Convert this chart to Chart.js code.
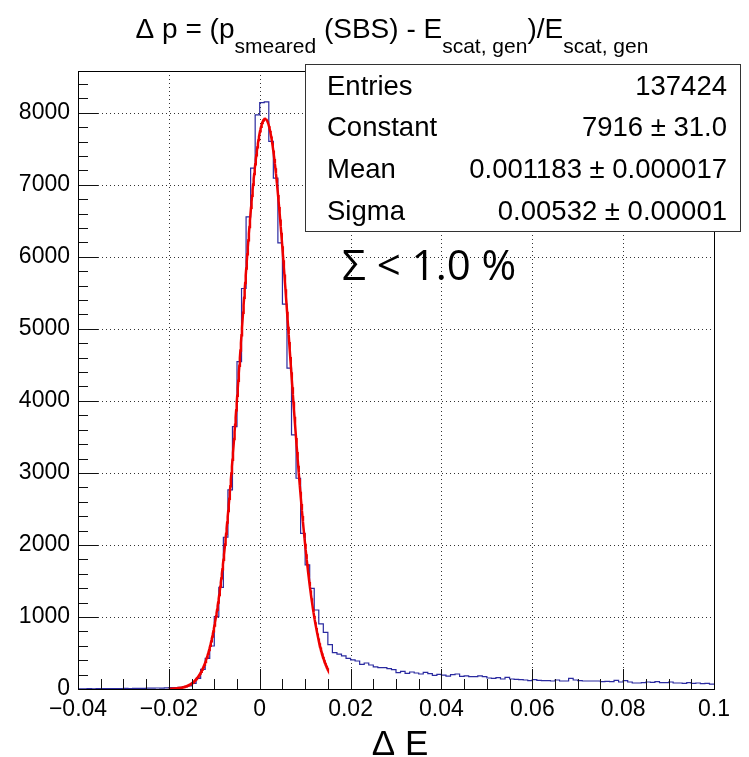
<!DOCTYPE html>
<html>
<head>
<meta charset="utf-8">
<script src="https://cdn.jsdelivr.net/npm/chart.js@4.4.1/dist/chart.umd.min.js"></script>
<style>
  html, body { margin: 0; padding: 0; background: #ffffff; }
  canvas { display: block; }
</style>
</head>
<body>
<canvas id="c" width="749" height="757"></canvas>
<script>
// Histogram binning: 140 bins of width 0.001 over [-0.04, 0.1]
const xRange = [-0.04, 0.1];
const binWidth = 0.001;

// Bin contents, lowest bin first
const counts = [
  3, 2, 4, 3, 5, 4, 6, 5, 7, 6,
  8, 7, 9, 10, 9, 11, 12, 14, 13, 16,
  18, 20, 24, 30, 42, 79, 148, 273, 426, 597,
  1004, 1412, 2107, 2764, 3643, 4546, 5560, 6555, 7232, 7972,
  8140, 8150, 7602, 7093, 6194, 5343, 4454, 3528, 2926, 2162,
  1722, 1398, 1097, 903, 785, 615, 505, 483, 460, 426,
  403, 389, 343, 361, 333, 306, 296, 296, 282, 268,
  227, 245, 218, 236, 222, 208, 231, 213, 190, 204,
  194, 180, 199, 208, 176, 181, 171, 171, 181, 171,
  153, 148, 157, 139, 162, 139, 134, 130, 125, 116,
  130, 120, 116, 116, 111, 125, 111, 111, 148, 125,
  116, 111, 111, 111, 111, 102, 106, 102, 120, 97,
  116, 97, 83, 83, 88, 97, 93, 102, 88, 88,
  97, 83, 83, 79, 88, 79, 83, 74, 79, 69
];

// Gaussian fit results (shown in the statistics box)
const entries = 137424;
const fitConstant = 7916, fitConstantErr = 31.0;
const fitMean = 0.001183, fitMeanErr = 0.000017;
const fitSigma = 0.00532, fitSigmaErr = 0.00001;
const fitRange = [-0.02, 0.015];

// Axis ticks
const xMajorTicks = [-0.04, -0.02, 0, 0.02, 0.04, 0.06, 0.08, 0.1];
const yMajorTicks = [0, 1000, 2000, 3000, 4000, 5000, 6000, 7000, 8000];
const yMax = 8580;

// Step outline: one point per bin low edge plus the closing upper edge
const histPoints = counts.map((c, i) => ({ x: xRange[0] + i * binWidth, y: c }));
histPoints.push({ x: xRange[1], y: counts[counts.length - 1] });

// Fitted gaussian sampled over the fit range
const fitPoints = [];
const nFit = 300;
for (let i = 0; i <= nFit; i++) {
  const x = fitRange[0] + (fitRange[1] - fitRange[0]) * i / nFit;
  const z = (x - fitMean) / fitSigma;
  fitPoints.push({ x, y: fitConstant * Math.exp(-0.5 * z * z) });
}

const fmtX = v => {
  if (Math.abs(v) < 1e-9) return '0';
  const s = String(parseFloat(v.toFixed(3)));
  return s.replace('-', '\u2212');
};

const SANS = '"Liberation Sans", Arial, Helvetica, sans-serif';

// Dotted grid, inner ticks and frame in the ROOT style
const frameAxes = {
  id: 'frameAxes',
  beforeDatasetsDraw(chart) {
    const { ctx, chartArea: a, scales: { x, y } } = chart;
    ctx.save();
    ctx.strokeStyle = '#333';
    ctx.lineWidth = 1;
    ctx.setLineDash([1, 3]);
    xMajorTicks.forEach(v => {
      const px = Math.round(x.getPixelForValue(v)) + 0.5;
      if (px <= a.left + 1 || px >= a.right - 1) return;
      ctx.beginPath(); ctx.moveTo(px, a.top); ctx.lineTo(px, a.bottom); ctx.stroke();
    });
    yMajorTicks.forEach(v => {
      const py = Math.round(y.getPixelForValue(v)) + 0.5;
      if (py >= a.bottom - 1) return;
      ctx.beginPath(); ctx.moveTo(a.left, py); ctx.lineTo(a.right, py); ctx.stroke();
    });
    ctx.restore();
  },
  afterDatasetsDraw(chart) {
    const { ctx, chartArea: a, scales: { x, y } } = chart;
    ctx.save();
    ctx.strokeStyle = '#111';
    ctx.lineWidth = 1;
    ctx.setLineDash([]);
    // x ticks: majors every 0.02, minors every 0.005
    for (let k = 0; k <= 28; k++) {
      const v = xRange[0] + k * 0.005;
      const px = Math.round(x.getPixelForValue(v)) + 0.5;
      const len = (k % 4 === 0) ? 20 : 10;
      ctx.beginPath(); ctx.moveTo(px, a.bottom); ctx.lineTo(px, a.bottom - len); ctx.stroke();
    }
    // y ticks: majors every 1000, minors every 200
    for (let k = 0; k * 200 <= yMax; k++) {
      const py = Math.round(y.getPixelForValue(k * 200)) + 0.5;
      const len = (k % 5 === 0) ? 20 : 10;
      ctx.beginPath(); ctx.moveTo(a.left, py); ctx.lineTo(a.left + len, py); ctx.stroke();
    }
    ctx.strokeStyle = '#000';
    ctx.strokeRect(Math.round(a.left) + 0.5, Math.round(a.top) + 0.5,
                   Math.round(a.right - a.left), Math.round(a.bottom - a.top));
    ctx.restore();
  }
};

// Title with subscripts, statistics box, annotation, x-axis title
const decorations = {
  id: 'decorations',
  afterDraw(chart) {
    const { ctx } = chart;
    ctx.save();
    ctx.fillStyle = '#000';
    ctx.textBaseline = 'alphabetic';

    // Title
    const mainFont = `28px ${SANS}`, subFont = `21px ${SANS}`;
    const parts = [
      ['\u0394 p = (p', mainFont, 0],
      ['smeared', subFont, 15],
      [' (SBS) - E', mainFont, 0],
      ['scat, gen', subFont, 15],
      [')/E', mainFont, 0],
      ['scat, gen', subFont, 15]
    ];
    let total = 0;
    parts.forEach(p => { ctx.font = p[1]; total += ctx.measureText(p[0]).width; });
    let tx = 392 - total / 2;
    const tBase = 38;
    parts.forEach(p => {
      ctx.font = p[1];
      ctx.textAlign = 'left';
      ctx.fillText(p[0], tx, tBase + p[2]);
      tx += ctx.measureText(p[0]).width;
    });

    // Statistics box
    const bx = 305, by = 64, bw = 435, bh = 167;
    ctx.fillStyle = '#fff';
    ctx.fillRect(bx, by, bw, bh);
    ctx.strokeStyle = '#333';
    ctx.lineWidth = 1;
    ctx.strokeRect(bx + 0.5, by + 0.5, bw, bh);
    ctx.fillStyle = '#000';
    ctx.font = `27.5px ${SANS}`;
    const rows = [
      ['Entries', String(entries)],
      ['Constant', `${fitConstant} \u00B1 ${fitConstantErr.toFixed(1)}`],
      ['Mean', `${fitMean.toFixed(6)} \u00B1 ${fitMeanErr.toFixed(6)}`],
      ['Sigma', `${fitSigma.toFixed(5)} \u00B1 ${fitSigmaErr.toFixed(5)}`]
    ];
    rows.forEach((r, i) => {
      const yb = 94.5 + i * 41.7;
      ctx.textAlign = 'left';
      ctx.fillText(r[0], 327, yb);
      ctx.textAlign = 'right';
      ctx.fillText(r[1], 727, yb);
    });

    // Resolution annotation
    ctx.textAlign = 'left';
    ctx.font = '42px "Open Sans", "DejaVu Sans", sans-serif';
    ctx.fillText('\u03A3 < 1.0 %', 342, 280);

    // x-axis title
    ctx.textAlign = 'center';
    ctx.font = `35px ${SANS}`;
    ctx.fillText('\u0394 E', 400, 755);
    ctx.restore();
  }
};

new Chart(document.getElementById('c'), {
  type: 'line',
  data: {
    datasets: [
      {
        label: 'histogram',
        data: histPoints,
        stepped: true,
        borderColor: '#2a2aa0',
        borderWidth: 1.2,
        pointRadius: 0,
        fill: false,
        order: 2
      },
      {
        label: 'gaus fit',
        data: fitPoints,
        borderColor: '#ee0000',
        borderWidth: 2.5,
        pointRadius: 0,
        tension: 0,
        fill: false,
        order: 1
      }
    ]
  },
  options: {
    responsive: false,
    animation: false,
    events: [],
    layout: { padding: { top: 71, right: 35, left: 0, bottom: 0 } },
    plugins: { legend: { display: false }, title: { display: false }, tooltip: { enabled: false } },
    scales: {
      x: {
        type: 'linear',
        min: xRange[0],
        max: xRange[1],
        grid: { display: false, drawTicks: false },
        border: { display: false },
        afterBuildTicks: s => { s.ticks = xMajorTicks.map(v => ({ value: v })); },
        afterFit: s => { s.height = 68; },
        ticks: {
          autoSkip: false,
          maxRotation: 0,
          padding: 7,
          color: '#000',
          font: { family: SANS, size: 23 },
          callback: v => fmtX(v)
        }
      },
      y: {
        type: 'linear',
        min: 0,
        max: yMax,
        grid: { display: false, drawTicks: false },
        border: { display: false },
        afterBuildTicks: s => { s.ticks = yMajorTicks.map(v => ({ value: v })); },
        afterFit: s => { s.width = 78; },
        ticks: {
          autoSkip: false,
          padding: 8,
          color: '#000',
          font: { family: SANS, size: 23 },
          callback: v => String(v)
        }
      }
    }
  },
  plugins: [frameAxes, decorations]
});
</script>
</body>
</html>
